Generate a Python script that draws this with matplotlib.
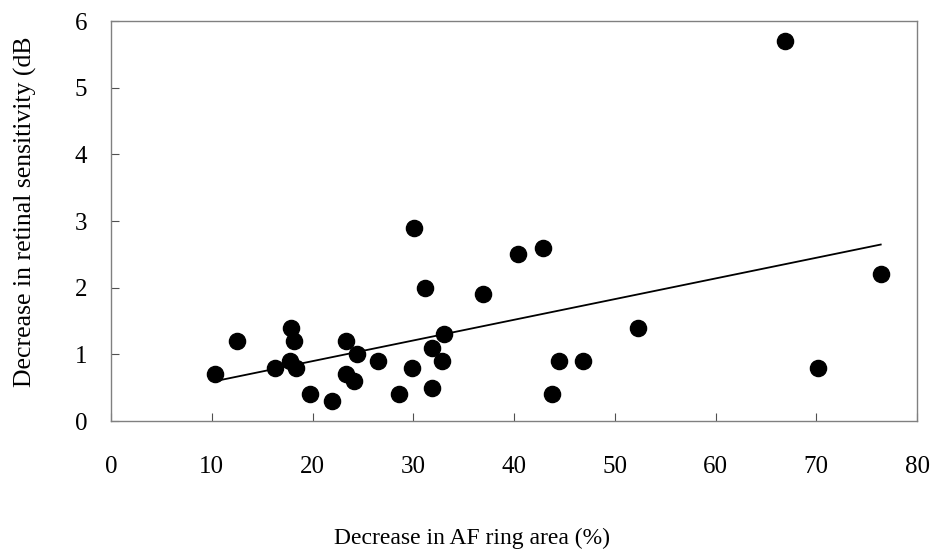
import numpy as np
import matplotlib
matplotlib.use("Agg")
import matplotlib.pyplot as plt

# decrease in AF ring area (%) vs decrease in retinal sensitivity (dB)
af_area = [10.3, 12.5, 16.3, 17.9, 18.2, 17.8, 18.4, 19.8, 21.9, 23.3, 23.3,
           24.1, 24.4, 26.5, 28.6, 29.9, 30.1, 31.2, 31.9, 31.9, 32.9, 33.1,
           36.9, 40.4, 42.9, 43.8, 44.5, 46.8, 52.3, 66.9, 70.2, 76.4]
sens_drop = [0.7, 1.2, 0.8, 1.4, 1.2, 0.9, 0.8, 0.4, 0.3, 1.2, 0.7,
             0.6, 1.0, 0.9, 0.4, 0.8, 2.9, 2.0, 0.5, 1.1, 0.9, 1.3,
             1.9, 2.5, 2.6, 0.4, 0.9, 0.9, 1.4, 5.7, 0.8, 2.2]

x_ticks = [0, 10, 20, 30, 40, 50, 60, 70, 80]
y_ticks = [0, 1, 2, 3, 4, 5, 6]

plt.rcParams['font.family'] = ['Liberation Serif', 'DejaVu Serif']

fig = plt.figure(figsize=(9.32, 5.52), dpi=100)
ax = fig.add_axes([111 / 932, 131 / 552, 806 / 932, 400 / 552])

ax.scatter(af_area, sens_drop, s=135, color='black', zorder=3)

# least squares trend line over the range of the data
k, b = np.polyfit(af_area, sens_drop, 1)
xs = np.array([min(af_area), max(af_area)])
ax.plot(xs, k * xs + b, color='black', lw=1.3)

ax.set_xlim(0, 80)
ax.set_ylim(0, 6)
ax.set_xticks(x_ticks)
ax.set_yticks(y_ticks)

for s in ax.spines.values():
    s.set_color('#808080')
    s.set_linewidth(1)

ax.tick_params(axis='x', direction='in', length=6, color='#505050',
               labelsize=18, pad=25)
ax.tick_params(axis='y', direction='in', length=6, color='#505050',
               labelsize=18, pad=17)

fig.text(472 / 932, 14 / 552, 'Decrease in AF ring area (%)', fontsize=17,
         ha='center', va='center')
# the label is cut off at the closing bracket in the source figure
fig.text(25 / 932, 165 / 552, 'Decrease in retinal sensitivity (dB',
         fontsize=18.5, rotation=90, ha='center', va='bottom')

fig.savefig('out.png', dpi=100)
